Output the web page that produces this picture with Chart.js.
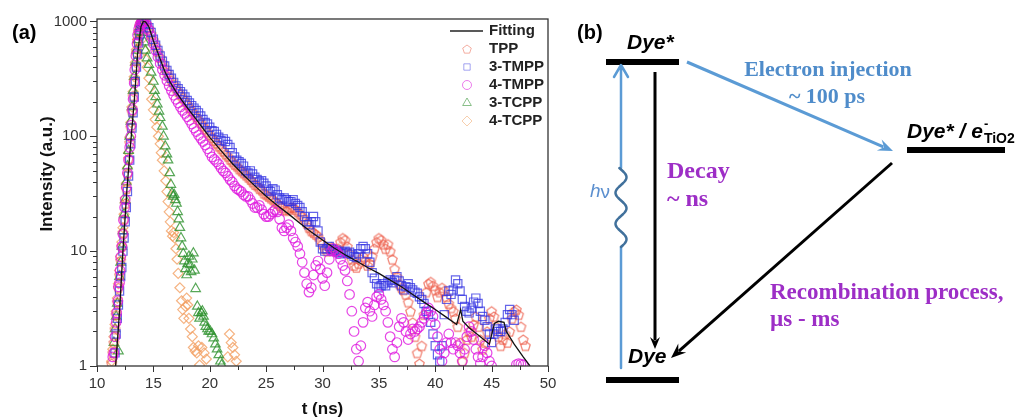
<!DOCTYPE html>
<html>
<head>
<meta charset="utf-8">
<script src="https://cdn.jsdelivr.net/npm/chart.js@4.4.1/dist/chart.umd.min.js"></script>
<style>
  body { margin: 0; background: #fff; }
  #wrap { width: 1027px; height: 419px; }
</style>
</head>
<body>
<div id="wrap"><canvas id="myChart" width="1027" height="419"></canvas></div>
<script>
// ---- data: [t (ns), intensity (a.u.)] ----
const fit = [[11.65,1],[12.0,3],[12.3,10],[12.65,34],[13.0,90],[13.3,200],[13.6,520],[13.9,900],[14.1,1000],[14.3,990],[14.6,900],[15.0,680],[15.5,500],[16.0,370],[16.5,295],[17.0,245],[17.5,208],[18.0,178],[19.0,132],[20.0,98],[21.0,75],[22.0,58],[23.0,46],[24.0,37],[25.0,30],[26.0,25],[27.0,21],[28.0,17.5],[29.0,14.7],[30.0,12.5],[31.0,10.7],[32.0,9.3],[33.0,8.2],[34.0,7.2],[35.0,6.4],[36.0,5.6],[37.0,4.9],[38.0,4.2],[39.0,3.6],[40.0,3.1],[41.0,2.65],[41.9,2.3],[42.25,3.1],[42.45,2.45],[43.0,2.15],[44.0,1.8],[44.8,1.55],[45.25,2.35],[45.6,2.45],[46.1,2.4],[46.3,2.0],[47.0,1.55],[47.8,1.2],[48.4,1.0]];

const tpp = [[11.3,1.05],[11.4,1.3],[11.5,1.6],[11.6,2.1],[11.7,2.8],[11.8,3.6],[11.9,4.8],[12.0,6.2],[12.1,8.3],[12.2,11],[12.3,14.5],[12.4,19],[12.5,26],[12.6,35],[12.7,47],[12.8,64],[12.9,88],[13.0,120],[13.1,165],[13.2,225],[13.3,305],[13.4,410],[13.5,540],[13.6,680],[13.7,800],[13.8,900],[13.9,960],[14.0,995],[14.1,1000],
[14.2,1000],[14.4,950],[14.6,870],[14.8,780],[15.0,690],[15.2,610],[15.4,545],[15.6,485],[15.8,435],[16.0,395],[16.2,360],[16.4,330],[16.6,305],[16.8,282],[17.0,262],[17.2,245],[17.4,230],[17.6,216],[17.8,203],[18.0,190],[18.2,178],[18.4,167],[18.6,157],[18.8,148],[19.0,139],[19.2,131],[19.4,123],[19.6,116],[19.8,109],[20.0,103],[20.2,97],[20.4,92],[20.6,87],[20.8,82],[21.0,78],[21.2,74],[21.4,70],[21.6,67],[21.8,63],[22.0,60],[22.2,57],[22.4,55],[22.6,52],[22.8,50],[23.0,48],[23.2,46],[23.4,44],[23.6,42],[23.8,40],[24.0,38],[24.2,37],[24.4,35],[24.6,34],[24.8,32],[25.0,31],[25.2,30],[25.4,29],[25.6,28],[25.8,27],[26.0,26],[26.2,25],[26.4,24],[26.6,23],[26.8,22.5],[27.0,23],[27.2,24],[27.4,24],[27.6,23],[27.8,22],[28.0,21],[28.2,20],[28.4,19],[28.6,17.5],[28.8,16],[29.0,15],[29.2,14.5],[29.4,14],[29.6,13.5],[29.8,12.5],[30.0,11.5],[30.2,10.5],[30.4,10],[30.6,10.5],[30.8,10.8],[31.0,10.5],[31.2,10],[31.4,10.5],[31.6,12],[31.8,13],[32.0,12.5],[32.2,11],[32.4,9.5],[32.6,8.5],[32.8,7.5],[33.0,7.2],[33.2,7.8],[33.4,8.5],[33.6,9],[33.8,8.2],[34.0,7.5],[34.2,7.8],[34.4,9],[34.6,10.5],[34.8,12],[35.0,13],[35.2,12.5],[35.4,11.5],[35.6,10.5],[35.8,11.5],[36.0,10],[36.2,8.5],[36.4,7.0],[36.6,6.0],[36.8,5.2],[37.0,4.8],[37.2,4.6],[37.4,4.2],[37.6,3.6],[37.8,3.0],[38.0,2.4],[38.2,1.8],[38.4,1.3],[38.6,1.05],[38.8,1.5],[39.0,2.8],[39.2,4.4],[39.4,5.2],[39.6,5.4],[39.8,5.0],[40.0,4.6],[40.2,4.0],[40.4,4.4],[40.6,4.8],[40.8,4.5],[41.0,4.0],[41.2,3.5],[41.4,3.2],[41.6,3.0],[41.8,2.6],[42.0,2.2],[42.2,1.6],[42.4,1.1],[42.6,1.3],[42.8,1.7],[43.0,2.0],[43.2,1.8],[43.4,2.3],[43.6,2.7],[43.8,2.2],[44.0,1.7],[44.2,1.4],[44.4,1.6],[44.6,2.0],[44.8,2.6],[45.0,3.0],[45.2,2.7],[45.4,2.2],[45.6,1.8],[45.8,1.5],[46.0,1.7],[46.2,1.9],[46.4,1.6],[46.6,2.0],[46.8,2.6],[47.0,3.0],[47.2,3.1],[47.4,2.8],[47.6,2.2],[47.8,1.7],[48.0,1.5]];

const tmpp3 = [[11.6,1.3],[11.7,1.9],[11.8,2.6],[11.9,3.4],[12.0,4.5],[12.1,6.0],[12.2,7.2],[12.3,10],[12.4,13],[12.5,18],[12.6,24],[12.7,33],[12.8,45],[12.9,62],[13.0,86],[13.1,118],[13.2,160],[13.3,220],[13.4,300],[13.5,400],[13.6,520],[13.7,650],[13.8,780],[13.9,880],[14.0,950],[14.1,990],
[14.2,1000],[14.4,960],[14.6,880],[14.8,800],[15.0,700],[15.2,620],[15.4,560],[15.6,500],[15.8,450],[16.0,410],[16.2,375],[16.4,345],[16.6,320],[16.8,295],[17.0,275],[17.2,260],[17.4,245],[17.6,232],[17.8,220],[18.0,205],[18.2,195],[18.4,185],[18.6,176],[18.8,168],[19.0,160],[19.2,150],[19.4,140],[19.6,132],[19.8,128],[20.0,120],[20.2,112],[20.4,110],[20.6,104],[20.8,98],[21.0,92],[21.2,95],[21.4,90],[21.6,85],[21.8,80],[22.0,72],[22.2,66],[22.4,62],[22.6,60],[22.8,58],[23.0,55],[23.2,50],[23.4,48],[23.6,50],[23.8,47],[24.0,44],[24.2,42],[24.4,40],[24.6,41],[24.8,39],[25.0,37],[25.2,34],[25.4,33],[25.6,35],[25.8,34],[26.0,31],[26.2,29],[26.4,28],[26.6,29],[26.8,28],[27.0,27],[27.2,27],[27.4,28],[27.6,26],[27.8,25],[28.0,24],[28.2,22],[28.4,20],[28.6,18],[28.8,17],[29.0,18],[29.2,20],[29.4,18],[29.6,15],[29.8,12],[30.0,10.5],[30.2,10],[30.4,10.5],[30.6,11],[30.8,10.5],[31.0,10],[31.2,10.2],[31.4,9.8],[31.6,9.5],[31.8,9.8],[32.0,10],[32.2,9.6],[32.4,9.8],[32.6,9.4],[32.8,9.0],[33.0,8.8],[33.2,9.5],[33.4,10.5],[33.6,11],[33.8,10.5],[34.0,9.5],[34.2,8],[34.4,6.5],[34.6,5.8],[34.8,5.2],[35.0,4.8],[35.2,5.0],[35.4,5.2],[35.6,5.0],[35.8,5.4],[36.0,5.6],[36.2,5.3],[36.4,5.6],[36.6,6.0],[36.8,5.5],[37.0,5.0],[37.2,4.6],[37.4,4.9],[37.6,5.2],[37.8,4.8],[38.0,4.6],[38.2,4.4],[38.4,4.3],[38.6,4.0],[38.8,3.8],[39.0,3.5],[39.2,3.0],[39.4,2.8],[39.6,2.4],[39.8,1.9],[40.0,1.5],[40.2,1.25],[40.4,1.1],[40.6,1.5],[40.8,2.8],[41.0,3.8],[41.2,4.5],[41.4,4.2],[41.6,4.6],[41.8,5.6],[42.0,5.2],[42.2,4.5],[42.4,3.8],[42.6,3.3],[42.8,3.0],[43.0,2.9],[43.2,3.2],[43.4,3.6],[43.6,3.9],[43.8,3.5],[44.0,3.0],[44.2,2.7],[44.4,2.5],[44.6,2.2],[44.8,1.9],[45.0,1.6],[45.2,1.9],[45.4,2.1],[45.6,2.0],[45.8,2.0],[46.0,2.1],[46.2,2.4],[46.4,2.8],[46.6,3.1],[46.8,2.8],[47.0,2.5]];

const tmpp4 = [[11.4,1.2],[11.5,1.3],[11.6,1.8],[11.7,2.4],[11.75,2.9],[11.85,3.7],[11.9,4.9],[12.0,5.3],[12.05,6.8],[12.1,8.9],[12.2,11],[12.3,14],[12.35,18.6],[12.45,24],[12.5,28],[12.6,36],[12.7,48],[12.8,62],[12.9,80],[13.0,100],[13.05,125],[13.15,170],[13.2,210],[13.3,290],[13.35,380],[13.45,500],[13.55,640],[13.6,760],[13.7,860],[13.8,930],[13.9,975],[14.0,1000],[14.1,1000],
[14.2,990],[14.4,930],[14.6,840],[14.8,740],[15.0,640],[15.2,560],[15.4,490],[15.6,430],[15.8,380],[16.0,340],[16.2,305],[16.4,275],[16.6,250],[16.8,228],[17.0,210],[17.2,195],[17.4,180],[17.6,168],[17.8,158],[18.0,148],[18.2,138],[18.4,128],[18.6,118],[18.8,110],[19.0,102],[19.2,96],[19.4,90],[19.6,84],[19.8,78],[20.0,72],[20.2,66],[20.4,63],[20.6,60],[20.8,57],[21.0,53],[21.2,50],[21.4,48],[21.6,45],[21.8,42],[22.0,40],[22.2,37],[22.4,35],[22.6,34],[22.8,33],[23.0,31],[23.2,30],[23.4,30],[23.6,28],[23.8,26],[24.0,24],[24.2,24],[24.4,25],[24.6,23],[24.8,21],[25.0,20],[25.2,20],[25.4,21],[25.6,22],[25.8,23],[26.0,22],[26.2,19],[26.4,16],[26.6,15],[26.8,16],[27.0,17],[27.2,15],[27.4,13],[27.6,12],[27.8,11],[28.0,9.5],[28.2,8],[28.4,6.5],[28.6,5.2],[28.8,4.4],[29.0,4.8],[29.2,6.2],[29.4,7.5],[29.6,8.2],[29.8,7.0],[30.0,5.8],[30.2,5.0],[30.4,6.5],[30.6,8.5],[30.8,10],[31.0,10.5],[31.2,10],[31.4,9.5],[31.6,8.5],[31.8,7.5],[32.0,6.8],[32.2,5.5],[32.4,4.2],[32.6,3.0],[32.8,2.0],[33.0,1.4],[33.2,1.1],[33.4,1.5],[33.6,2.4],[33.8,3.2],[34.0,3.6],[34.2,3.0],[34.4,2.7],[34.6,3.4],[34.8,4.0],[35.0,4.2],[35.2,3.8],[35.4,3.4],[35.6,3.0],[35.8,2.4],[36.0,1.8],[36.2,1.4],[36.4,1.2],[36.6,1.6],[36.8,2.2],[37.0,2.6],[37.2,2.4],[37.4,2.0],[37.6,1.7],[37.8,1.9],[38.0,2.1],[38.2,2.0],[38.4,2.1],[38.6,2.2],[38.8,2.4],[39.0,2.6],[39.2,2.9],[39.4,3.2],[39.6,3.0],[39.8,2.7],[40.0,2.3],[40.2,1.8],[40.4,1.4],[40.6,1.1],[40.8,1.3],[41.0,1.6],[41.2,1.9],[41.4,1.6],[41.6,1.4],[41.8,1.6],[42.0,1.5],[42.2,1.3],[42.4,1.1],[42.6,1.4],[42.8,1.8],[43.0,2.2],[43.2,2.0],[43.4,1.7],[43.6,1.4],[43.8,1.2],[44.0,1.05],[44.2,1.2],[44.4,1.5],[44.6,1.3],[44.8,1.1],[45.0,1.0],[47.2,1.03],[47.4,1.05],[47.6,1.04],[47.8,1.02]];

const tcpp3 = [[11.5,1.6],[11.6,2.1],[11.7,2.7],[11.8,3.5],[11.9,1.35],[12.0,6],[12.1,8],[12.2,11],[12.3,15],[12.4,21],[12.5,28],[12.6,40],[12.7,55],[12.8,75],[12.9,100],[13.0,135],[13.1,180],[13.2,250],[13.3,330],[13.4,440],[13.5,560],[13.6,690],[13.7,810],[13.8,900],[13.9,950],[14.0,930],
[14.1,800],[14.2,660],[14.3,560],[14.45,480],[14.6,420],[14.8,360],[15.0,300],[15.1,250],[15.2,220],[15.35,190],[15.5,165],[15.6,145],[15.8,122],[15.9,100],[16.05,82],[16.2,70],[16.3,62],[16.45,48],[16.55,38],[16.65,32],[16.75,30],[16.85,31],[16.95,28],[17.05,26],[17.15,22],[17.25,19],[17.35,16],[17.45,13],[17.55,11],[17.65,9.5],[17.75,8.2],[17.85,7],[17.95,6.2],[18.05,7.8],[18.15,9],[18.25,7.6],[18.35,6.6],[18.45,8.5],[18.55,9.6],[18.65,6.8],[18.75,4.7],[18.9,3.3],[19.0,2.9],[19.1,2.6],[19.25,2.9],[19.35,3.0],[19.45,2.7],[19.55,2.4],[19.65,2.2],[19.8,2.1],[19.9,2.0],[20.05,2.0],[20.2,1.9],[20.35,1.75],[20.5,1.55],[20.65,1.4],[20.8,1.25],[20.95,1.1],[21.05,1.02]];

const tcpp4 = [[11.3,1.1],[11.4,1.4],[11.5,1.8],[11.6,2.3],[11.7,3.0],[11.8,3.9],[11.9,5.2],[12.0,6.8],[12.1,9],[12.2,12],[12.3,16],[12.4,21],[12.5,29],[12.6,39],[12.7,53],[12.8,72],[12.9,98],[13.0,132],[13.1,180],[13.2,245],[13.3,330],[13.4,440],[13.5,570],[13.6,700],[13.7,830],[13.8,930],[13.9,990],[14.0,950],
[14.1,720],[14.2,560],[14.3,470],[14.45,400],[14.6,320],[14.7,265],[14.85,210],[15.0,170],[15.15,140],[15.3,120],[15.45,100],[15.6,86],[15.7,72],[15.8,62],[15.95,50],[16.1,41],[16.2,33],[16.3,27],[16.4,22],[16.5,18],[16.6,15],[16.7,13.5],[16.8,14.5],[16.9,13],[17.0,10.5],[17.1,8.5],[17.2,6.4],[17.35,4.8],[17.5,3.7],[17.6,3.1],[17.7,2.6],[17.85,3.3],[17.95,3.9],[18.05,3.4],[18.15,2.6],[18.3,2.1],[18.45,1.8],[18.55,1.45],[18.7,1.35],[18.85,1.3],[19.0,1.5],[19.1,1.02],[19.3,1.45],[19.5,1.3],[19.7,1.15],[21.6,1.2],[21.75,1.9],[21.9,1.6],[22.05,1.45],[22.2,1.25],[22.35,1.1]];

const yTicks = [1,2,3,4,5,6,7,8,9,10,20,30,40,50,60,70,80,90,100,200,300,400,500,600,700,800,900,1000];
const yLabels = [1, 10, 100, 1000];
const xLabels = [10, 15, 20, 25, 30, 35, 40, 45, 50];

const toXY = (arr) => arr.map((p) => ({ x: p[0], y: p[1] }));

// pentagon marker for TPP (Chart.js has no built-in pentagon)
function pentagon(color, r, lw) {
  const c = document.createElement("canvas");
  c.width = c.height = Math.ceil(r * 2 + 3);
  const g = c.getContext("2d");
  const cx = c.width / 2, cy = c.height / 2 + 0.5;
  g.strokeStyle = color;
  g.lineWidth = lw;
  g.beginPath();
  for (let i = 0; i < 5; i++) {
    const a = -Math.PI / 2 + (i * 2 * Math.PI) / 5;
    const px = cx + r * Math.cos(a), py = cy + r * Math.sin(a);
    if (i === 0) g.moveTo(px, py); else g.lineTo(px, py);
  }
  g.closePath();
  g.stroke();
  return c;
}

const cTPP = "rgba(236, 90, 70, 0.75)";
const cTMPP3 = "rgba(50, 50, 225, 0.75)";
const cTMPP4 = "rgba(222, 25, 222, 0.8)";
const cTCPP3 = "rgba(45, 145, 45, 0.8)";
const cTCPP4 = "rgba(242, 160, 100, 0.8)";
const pentaImg = pentagon(cTPP, 5, 1.2);
const pentaLegend = pentagon("rgba(236, 120, 100, 0.6)", 4.5, 1);

function mark(label, data, style, color, radius, order) {
  return {
    label, data: toXY(data), order,
    pointStyle: style, pointRadius: radius, pointHoverRadius: radius,
    borderColor: color, backgroundColor: "rgba(0,0,0,0)", pointBorderWidth: 1.2,
    showLine: false,
  };
}

function arrow(ctx, x1, y1, x2, y2, color, width, len, half) {
  const ang = Math.atan2(y2 - y1, x2 - x1);
  const cos = Math.cos(ang), sin = Math.sin(ang);
  ctx.strokeStyle = color;
  ctx.fillStyle = color;
  ctx.lineWidth = width;
  ctx.beginPath();
  ctx.moveTo(x1, y1);
  ctx.lineTo(x2 - len * 0.7 * cos, y2 - len * 0.7 * sin);
  ctx.stroke();
  ctx.beginPath();
  ctx.moveTo(x2, y2);
  ctx.lineTo(x2 - len * cos + half * sin, y2 - len * sin - half * cos);
  ctx.lineTo(x2 - len * 0.65 * cos, y2 - len * 0.65 * sin);
  ctx.lineTo(x2 - len * cos - half * sin, y2 - len * sin + half * cos);
  ctx.closePath();
  ctx.fill();
}

function text(ctx, s, x, y, font, color, align) {
  ctx.font = font;
  ctx.fillStyle = color;
  ctx.textAlign = align || "left";
  ctx.textBaseline = "middle";
  ctx.fillText(s, x, y);
  return ctx.measureText(s).width;
}

const decor = {
  id: "decor",
  afterDraw(chart) {
    const { ctx, chartArea: a, scales } = chart;
    const x = scales.x, y = scales.y;
    ctx.save();

    // frame and ticks
    ctx.strokeStyle = "#333";
    ctx.lineWidth = 1.3;
    ctx.strokeRect(a.left, a.top, a.right - a.left, a.bottom - a.top);
    ctx.lineWidth = 1;
    ctx.beginPath();
    y.ticks.forEach((t) => {
      const py = Math.round(y.getPixelForValue(t.value)) + 0.5;
      const len = yLabels.includes(t.value) ? 7 : 4;
      ctx.moveTo(a.left - len, py);
      ctx.lineTo(a.left, py);
    });
    x.ticks.forEach((t) => {
      const px = Math.round(x.getPixelForValue(t.value)) + 0.5;
      const len = xLabels.includes(t.value) ? 6 : 4;
      ctx.moveTo(px, a.bottom);
      ctx.lineTo(px, a.bottom + len);
    });
    ctx.stroke();

    // axis titles
    text(ctx, "t (ns)", (a.left + a.right) / 2, 409, "bold 17px 'Liberation Sans'", "#111", "center");
    ctx.save();
    ctx.translate(47, 174);
    ctx.rotate(-Math.PI / 2);
    text(ctx, "Intensity (a.u.)", 0, 0, "bold 17px 'Liberation Sans'", "#111", "center");
    ctx.restore();

    // legend
    const lf = "bold 15px 'Liberation Sans'";
    ctx.strokeStyle = "#222";
    ctx.lineWidth = 1.3;
    ctx.beginPath(); ctx.moveTo(450, 31); ctx.lineTo(483, 31); ctx.stroke();
    text(ctx, "Fitting", 489, 31, lf, "#222");
    const rows = [
      ["TPP", pentaLegend, "rgba(236,120,100,0.6)", 4.5, 49],
      ["3-TMPP", "rect", "rgba(90,90,230,0.55)", 4.5, 67],
      ["4-TMPP", "circle", "rgba(222,40,222,0.6)", 4.5, 85],
      ["3-TCPP", "triangle", "rgba(60,150,60,0.6)", 5, 103],
      ["4-TCPP", "rectRot", "rgba(242,175,120,0.6)", 5, 121],
    ];
    rows.forEach(([lab, st, col, r, ry]) => {
      ctx.strokeStyle = col;
      ctx.fillStyle = "rgba(0,0,0,0)";
      ctx.lineWidth = 1;
      Chart.helpers.drawPoint(ctx, { pointStyle: st, radius: r, rotation: 0, borderWidth: 1 }, 467, ry);
      text(ctx, lab, 489, ry, lf, "#222");
    });

    // panel labels
    text(ctx, "(a)", 12, 33, "bold 20px 'Liberation Sans'", "#000");
    text(ctx, "(b)", 577, 33, "bold 20px 'Liberation Sans'", "#000");

    // ---- panel (b): energy diagram ----
    ctx.fillStyle = "#000";
    ctx.fillRect(606, 59, 73, 6);
    ctx.fillRect(907, 147, 98, 6);
    ctx.fillRect(606, 377, 73, 6);

    const di = "italic bold 21px 'Liberation Sans'";
    text(ctx, "Dye*", 627, 43, di, "#000");
    text(ctx, "Dye", 628, 357, di, "#000");
    let w = text(ctx, "Dye* / e", 907, 132, di, "#000");
    text(ctx, "-", 907 + w + 1, 124, "bold 13px 'Liberation Sans'", "#000");
    text(ctx, "TiO2", 907 + w + 1, 139, "bold 14px 'Liberation Sans'", "#000");

    // excitation arrow with wavy hv part
    ctx.lineCap = "round";
    ctx.lineJoin = "round";
    ctx.strokeStyle = "#5b9bd5";
    ctx.lineWidth = 2.5;
    ctx.beginPath();
    ctx.moveTo(621, 368); ctx.lineTo(621, 247);
    ctx.moveTo(621, 168); ctx.lineTo(621, 66);
    ctx.moveTo(614, 77); ctx.lineTo(621, 65); ctx.lineTo(628, 77);
    ctx.stroke();
    ctx.strokeStyle = "#41719c";
    ctx.beginPath();
    for (let yy = 247; yy >= 168; yy -= 1) {
      const xx = 621 + 5.5 * Math.sin((2 * Math.PI * (247 - yy)) / 31);
      if (yy === 247) ctx.moveTo(xx, yy); else ctx.lineTo(xx, yy);
    }
    ctx.stroke();
    ctx.lineCap = "butt";
    const hw = text(ctx, "h", 590, 192, "italic 19px 'Liberation Sans'", "#5b8fcf");
    text(ctx, "ν", 590 + hw, 193, "19px 'Liberation Sans'", "#5b8fcf");

    arrow(ctx, 655, 72, 655, 349, "#000", 3, 12, 5);
    arrow(ctx, 687, 62, 893, 151, "#5b9bd5", 3, 15, 6);
    arrow(ctx, 892, 163, 671, 358, "#000", 3, 15, 6);

    const sf = "bold 22px 'Liberation Serif'";
    const purple = "#9d2ec6";
    const blue = "#4f8cca";
    text(ctx, "Electron injection", 828, 70, sf, blue, "center");
    text(ctx, "~ 100 ps", 827, 97, sf, blue, "center");
    text(ctx, "Decay", 667, 172, "bold 24px 'Liberation Serif'", purple);
    text(ctx, "~ ns", 667, 200, "bold 24px 'Liberation Serif'", purple);
    text(ctx, "Recombination process,", 770, 293, "bold 23px 'Liberation Serif'", purple);
    text(ctx, "µs - ms", 770, 320, "bold 23px 'Liberation Serif'", purple);

    ctx.restore();
  },
};

const tickFont = { family: "Liberation Sans", size: 15 };

new Chart(document.getElementById("myChart").getContext("2d"), {
  type: "scatter",
  data: {
    datasets: [
      { label: "Fitting", data: toXY(fit), showLine: true, borderColor: "#111", borderWidth: 1.3, pointRadius: 0, tension: 0, order: 0 },
      mark("4-TMPP", tmpp4, "circle", cTMPP4, 4.8, 1),
      mark("3-TMPP", tmpp3, "rect", cTMPP3, 5.8, 2),
      mark("TPP", tpp, pentaImg, cTPP, 5, 3),
      mark("3-TCPP", tcpp3, "triangle", cTCPP3, 5.5, 4),
      mark("4-TCPP", tcpp4, "rectRot", cTCPP4, 5, 5),
    ],
  },
  options: {
    responsive: false,
    animation: false,
    devicePixelRatio: 1,
    layout: { padding: { left: 0, top: 19, right: 479, bottom: 0 } },
    plugins: { legend: { display: false }, tooltip: { enabled: false } },
    scales: {
      x: {
        type: "linear", min: 10, max: 50,
        afterFit: (s) => { s.height = 53; },
        ticks: {
          stepSize: 2.5, autoSkip: false, maxRotation: 0, padding: 3,
          color: "#333", font: tickFont,
          callback: (v) => (xLabels.includes(v) ? String(v) : ""),
        },
        grid: { drawOnChartArea: false, drawTicks: true, tickLength: 6, tickColor: "rgba(0,0,0,0)" },
        border: { display: false },
      },
      y: {
        type: "logarithmic", min: 1, max: 1050,
        afterFit: (s) => { s.width = 97; },
        afterBuildTicks: (s) => { s.ticks = yTicks.map((v) => ({ value: v })); },
        ticks: {
          autoSkip: false, padding: 3, color: "#333", font: tickFont,
          callback: (v) => (yLabels.includes(v) ? String(v) : ""),
        },
        grid: { drawOnChartArea: false, drawTicks: true, tickLength: 7, tickColor: "rgba(0,0,0,0)" },
        border: { display: false },
      },
    },
  },
  plugins: [decor],
});
</script>
</body>
</html>
